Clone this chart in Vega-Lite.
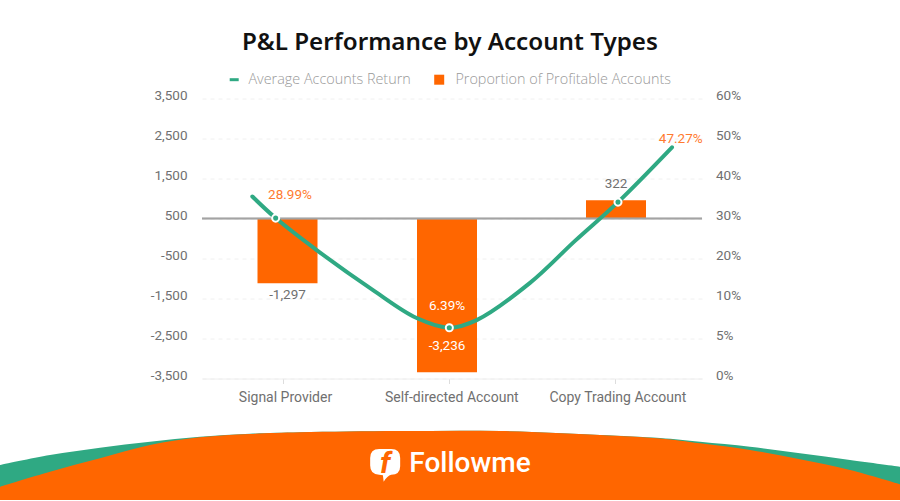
{
  "$schema": "https://vega.github.io/schema/vega-lite/v6.json",
  "autosize": {"type": "none"},
  "width": 500,
  "height": 280,
  "padding": {"left": 202, "top": 98.5, "right": 198, "bottom": 122.5},
  "background": "white",
  "title": {
    "text": "P&L Performance by Account Types",
    "anchor": "middle",
    "dx": -2,
    "offset": 17,
    "font": "Noto Sans",
    "fontSize": 24.2,
    "fontWeight": 600,
    "color": "#111111"
  },
  "datasets": {
    "accounts": [
      {"account": "Signal Provider", "pos": 0.513, "avg_return": -1297, "return_label": "-1,297"},
      {"account": "Self-directed Account", "pos": 1.47, "avg_return": -3236, "return_label": "-3,236"},
      {"account": "Copy Trading Account", "pos": 2.484, "avg_return": 322, "return_label": "322"}
    ],
    "curve": [
      {"pos": 0.302, "share": 35.5},
      {"pos": 0.442, "share": 30.1, "marker": true, "label": "28.99%"},
      {"pos": 0.688, "share": 22.1},
      {"pos": 1.026, "share": 12.1},
      {"pos": 1.288, "share": 7.56},
      {"pos": 1.484, "share": 6.35, "marker": true, "label": "6.39%"},
      {"pos": 1.648, "share": 7.3},
      {"pos": 1.968, "share": 13.9},
      {"pos": 2.238, "share": 24.4},
      {"pos": 2.496, "share": 34.1, "marker": true},
      {"pos": 2.82, "share": 47.8, "label": "47.27%"}
    ],
    "wave": [
      {"pos": -1.212, "green": 35, "orange": 13.3},
      {"pos": -0.912, "green": 45, "orange": 28.3},
      {"pos": -0.612, "green": 52.3, "orange": 41.7},
      {"pos": -0.312, "green": 58.3, "orange": 55},
      {"pos": -0.012, "green": 63.3, "orange": 62.7},
      {"pos": 0.288, "green": 66.2, "orange": 66},
      {"pos": 0.588, "green": 67.7, "orange": 67.7},
      {"pos": 1.188, "green": 69, "orange": 69},
      {"pos": 1.788, "green": 69, "orange": 69},
      {"pos": 2.388, "green": 65, "orange": 65},
      {"pos": 2.748, "green": 62, "orange": 61.5},
      {"pos": 2.988, "green": 58.3, "orange": 56.7},
      {"pos": 3.288, "green": 53.3, "orange": 50},
      {"pos": 3.588, "green": 46.7, "orange": 40.7},
      {"pos": 3.888, "green": 40, "orange": 30},
      {"pos": 4.188, "green": 33.3, "orange": 15.7}
    ],
    "logo": [{"pos": 1.099, "word_pos": 1.608, "height": 36, "word": "Followme"}]
  },
  "encoding": {
    "x": {
      "field": "pos",
      "type": "quantitative",
      "scale": {"domain": [0, 3], "nice": false, "zero": false, "padding": 0},
      "axis": {
        "title": null,
        "values": [0.486, 1.484, 2.48],
        "labelExpr": "datum.value < 1 ? 'Signal Provider' : datum.value < 2 ? 'Self-directed Account' : 'Copy Trading Account'",
        "grid": false,
        "domainColor": "#eeeeee",
        "tickColor": "#dddddd",
        "tickSize": 5,
        "labelColor": "#707070",
        "labelFont": "Roboto",
        "labelFontSize": 14,
        "labelPadding": 7,
        "labelOffset": 2
      }
    }
  },
  "layer": [
    {
      "data": {"name": "accounts"},
      "mark": {"type": "point", "opacity": 0},
      "encoding": {
        "y": {
          "field": "avg_return",
          "type": "quantitative",
          "scale": {"domain": [-3500, 3500], "nice": false, "zero": false},
          "axis": {
            "title": null,
            "orient": "left",
            "values": [-3500, -2500, -1500, -500, 500, 1500, 2500, 3500],
            "labelExpr": "replace(format(datum.value, ','), '−', '-')",
            "domain": false,
            "ticks": false,
            "grid": true,
            "gridColor": "#f0f0f0",
            "gridDash": [4, 4],
            "labelColor": "#707070",
            "labelFont": "Roboto",
            "labelFontSize": 13.5,
            "labelPadding": 15,
            "labelOffset": -3.5
          }
        }
      }
    },
    {
      "data": {"name": "wave"},
      "encoding": {
        "y": {
          "type": "quantitative",
          "scale": {"domain": [121.5, 401.5], "nice": false, "zero": false},
          "axis": null
        }
      },
      "layer": [
        {
          "mark": {"type": "area", "color": "#2fa983", "interpolate": "catmull-rom", "clip": false},
          "encoding": {
            "y": {"field": "green", "type": "quantitative", "stack": null, "scale": {"domain": [121.5, 401.5], "nice": false, "zero": false}, "axis": null},
            "y2": {"datum": 0}
          }
        },
        {
          "mark": {"type": "area", "color": "#ff6600", "interpolate": "catmull-rom", "clip": false},
          "encoding": {
            "y": {"field": "orange", "type": "quantitative", "stack": null, "scale": {"domain": [121.5, 401.5], "nice": false, "zero": false}, "axis": null},
            "y2": {"datum": 0}
          }
        },
        {
          "data": {"name": "logo"},
          "mark": {
            "type": "point",
            "filled": true,
            "fill": "white",
            "opacity": 1,
            "size": 900,
            "shape": "M-0.4,-1 L0.4,-1 Q1,-1 1,-0.4 L1,0.15 Q1,0.7 0.4,0.72 Q0.15,0.78 -0.1,1.18 L-0.15,0.75 Q-0.2,0.72 -0.4,0.72 Q-1,0.7 -1,0.1 L-1,-0.4 Q-1,-1 -0.4,-1 Z"
          },
          "encoding": {
            "y": {"field": "height", "type": "quantitative", "scale": {"domain": [121.5, 401.5], "nice": false, "zero": false}, "axis": null}
          }
        },
        {
          "data": {"name": "logo"},
          "mark": {"type": "text", "text": "f", "font": "Roboto", "fontSize": 30, "fontWeight": 700, "fontStyle": "italic", "color": "#ff6600", "baseline": "middle"},
          "encoding": {
            "y": {"field": "height", "type": "quantitative", "scale": {"domain": [121.5, 401.5], "nice": false, "zero": false}, "axis": null}
          }
        },
        {
          "data": {"name": "logo"},
          "mark": {"type": "text", "font": "Roboto", "fontSize": 28, "fontWeight": 500, "color": "white", "baseline": "middle"},
          "encoding": {
            "x": {"field": "word_pos", "type": "quantitative"},
            "y": {"field": "height", "type": "quantitative", "scale": {"domain": [121.5, 401.5], "nice": false, "zero": false}, "axis": null},
            "text": {"field": "word"}
          }
        }
      ]
    },
    {
      "data": {"name": "accounts"},
      "encoding": {
        "y": {
          "field": "avg_return",
          "type": "quantitative",
          "stack": null,
          "scale": {"domain": [-3236, -1297, 0, 322], "range": [273.8, 184.8, 120, 101.8], "nice": false, "zero": false},
          "axis": null
        }
      },
      "layer": [
        {
          "mark": {"type": "bar", "width": 60},
          "encoding": {
            "fill": {
              "datum": "Proportion of Profitable Accounts",
              "scale": {"range": ["#ff6600"]},
              "legend": {
                "title": null,
                "orient": "none",
                "legendX": 230,
                "legendY": -26,
                "symbolType": "square",
                "symbolSize": 100,
                "symbolStrokeWidth": 0,
                "labelColor": "#999999",
                "labelFont": "Open Sans",
                "labelFontSize": 14.4,
                "labelFontWeight": 300,
                "labelLimit": 300,
                "labelOffset": 9
              }
            }
          }
        },
        {
          "mark": {"type": "rule", "color": "#a3a3a3", "strokeWidth": 1.5},
          "encoding": {
            "x": {"datum": 0, "type": "quantitative"},
            "x2": {"datum": 3},
            "y": {"datum": 0, "type": "quantitative"}
          }
        },
        {
          "transform": [{"filter": "datum.avg_return == -1297"}],
          "mark": {"type": "text", "font": "Roboto", "fontSize": 13.5, "color": "#707070", "baseline": "middle", "dy": 12},
          "encoding": {"text": {"field": "return_label"}}
        },
        {
          "transform": [{"filter": "datum.avg_return == -3236"}],
          "mark": {"type": "text", "font": "Roboto", "fontSize": 13.5, "color": "white", "baseline": "middle", "dy": -26.3},
          "encoding": {"text": {"field": "return_label"}}
        },
        {
          "transform": [{"filter": "datum.avg_return == 322"}],
          "mark": {"type": "text", "font": "Roboto", "fontSize": 13.5, "color": "#707070", "baseline": "middle", "dy": -16},
          "encoding": {"text": {"field": "return_label"}}
        }
      ]
    },
    {
      "data": {"name": "curve"},
      "encoding": {
        "y": {
          "field": "share",
          "type": "quantitative",
          "scale": {
            "domain": [0, 5, 10, 20, 30, 40, 50, 60],
            "range": [280, 240, 200, 160, 120, 80, 40, 0],
            "nice": false,
            "zero": false
          },
          "axis": {
            "title": null,
            "orient": "right",
            "values": [0, 5, 10, 20, 30, 40, 50, 60],
            "labelExpr": "datum.value + '%'",
            "domain": false,
            "ticks": false,
            "grid": false,
            "labelColor": "#707070",
            "labelFont": "Roboto",
            "labelFontSize": 13.5,
            "labelPadding": 13.5,
            "labelOffset": -3.5
          }
        }
      },
      "layer": [
        {
          "mark": {"type": "line", "interpolate": "catmull-rom", "strokeWidth": 4, "strokeCap": "round"},
          "encoding": {
            "stroke": {
              "datum": "Average Accounts Return",
              "scale": {"range": ["#2fa983"]},
              "legend": {
                "title": null,
                "orient": "none",
                "legendX": 25,
                "legendY": -26,
                "symbolType": "stroke",
                "symbolSize": 81,
                "symbolStrokeWidth": 3,
                "labelColor": "#999999",
                "labelFont": "Open Sans",
                "labelFontSize": 14.4,
                "labelFontWeight": 300,
                "labelLimit": 300,
                "labelOffset": 7
              }
            }
          }
        },
        {
          "transform": [{"filter": "datum.marker"}],
          "mark": {"type": "point", "filled": true, "fill": "#2fa983", "stroke": "white", "strokeWidth": 2, "opacity": 1, "size": 50}
        },
        {
          "transform": [{"filter": "datum.label == '28.99%'"}],
          "mark": {"type": "text", "font": "Roboto", "fontSize": 13.5, "color": "#ff7a2f", "baseline": "middle", "dx": 14.3, "dy": -23.5},
          "encoding": {"text": {"field": "label"}}
        },
        {
          "transform": [{"filter": "datum.label == '6.39%'"}],
          "mark": {"type": "text", "font": "Roboto", "fontSize": 13.5, "color": "white", "baseline": "middle", "dx": -2.3, "dy": -21.7},
          "encoding": {"text": {"field": "label"}}
        },
        {
          "transform": [{"filter": "datum.label == '47.27%'"}],
          "mark": {"type": "text", "font": "Roboto", "fontSize": 13.5, "color": "#ff7a2f", "baseline": "middle", "dx": 8.7, "dy": -8},
          "encoding": {"text": {"field": "label"}}
        }
      ]
    }
  ],
  "resolve": {"scale": {"y": "independent", "fill": "independent", "stroke": "independent"}, "axis": {"y": "independent"}},
  "config": {"view": {"stroke": null}}
}
